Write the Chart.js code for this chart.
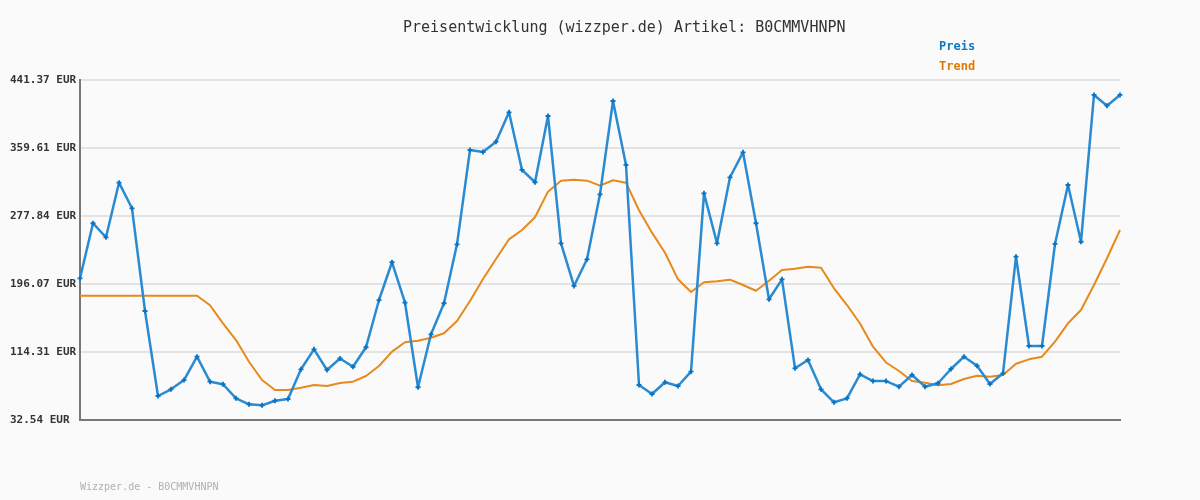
<!DOCTYPE html>
<html>
<head>
<meta charset="utf-8">
<script src="https://cdn.jsdelivr.net/npm/chart.js@4/dist/chart.umd.min.js"></script>
<style>
  html, body { margin: 0; padding: 0; background: #fafafa; }
  #wrap { width: 1200px; height: 500px; }
</style>
</head>
<body>
<div id="wrap"><canvas id="c" width="1200" height="500"></canvas></div>
<script>
const titleText = "Preisentwicklung (wizzper.de) Artikel: B0CMMVHNPN";
const footerText = "Wizzper.de - B0CMMVHNPN";
const seriesNames = ["Preis", "Trend"];
const yTicks = [32.54, 114.31, 196.07, 277.84, 359.61, 441.37];

const preis = [
  202.9, 269.1, 252.2, 317.9, 287.1, 163.6, 61.4, 69.4, 80.6, 108.7,
  78.6, 75.5, 58.6, 51.4, 50.2, 55.7, 57.8, 93.5, 117.5, 92.7,
  106.5, 96.6, 120.0, 176.8, 222.2, 173.6, 71.9, 135.6, 172.9, 243.8,
  357.2, 354.8, 367.2, 402.5, 333.2, 318.4, 398.1, 245.0, 193.7, 225.8,
  303.9, 416.1, 339.2, 74.6, 63.8, 77.9, 73.4, 90.6, 305.1, 245.0,
  324.4, 354.4, 269.1, 177.7, 201.7, 94.7, 104.7, 69.4, 53.8, 58.6,
  87.5, 79.4, 79.4, 72.6, 86.7, 72.6, 76.7, 93.9, 108.7, 97.8,
  75.8, 88.7, 228.9, 121.5, 121.5, 244.2, 315.1, 246.9, 423.4, 410.5,
  423.4
];

const trend = [
  182.0, 182.0, 182.0, 182.0, 182.0, 182.0, 182.0, 182.0, 182.0, 182.0,
  170.5, 148.8, 128.7, 102.6, 80.6, 68.6, 68.6, 71.4, 74.6, 73.4,
  77.0, 78.6, 85.4, 97.5, 114.7, 126.0, 127.9, 131.5, 136.8, 151.6,
  175.6, 202.1, 226.1, 249.8, 261.0, 276.3, 307.1, 320.3, 321.5, 320.3,
  314.3, 320.8, 317.9, 284.7, 257.8, 233.7, 201.7, 186.5, 198.1, 199.3,
  201.3, 194.9, 188.0, 200.0, 212.9, 214.5, 216.9, 215.7, 190.9, 170.8,
  148.6, 120.7, 101.7, 91.5, 79.4, 77.4, 74.3, 75.8, 81.8, 85.8,
  84.6, 86.7, 100.2, 105.5, 108.7, 126.7, 148.8, 164.8, 194.9, 227.0,
  261.0
];

const labels = preis.map((_, i) => String(i + 1));

const textPlugin = {
  id: 'texts',
  beforeDraw(chart) {
    const ctx = chart.ctx;
    ctx.save();
    ctx.fillStyle = '#fafafa';
    ctx.fillRect(0, 0, chart.width, chart.height);
    ctx.restore();
  },
  afterDraw(chart) {
    const ctx = chart.ctx;
    ctx.save();
    ctx.textBaseline = 'middle';
    ctx.textAlign = 'left';
    ctx.fillStyle = '#333333';
    ctx.font = '15px "DejaVu Sans Mono"';
    ctx.fillText(titleText, 403, 28);
    ctx.font = 'bold 12px "DejaVu Sans Mono"';
    ctx.fillStyle = '#0a7ac6';
    ctx.fillText(seriesNames[0], 939, 47);
    ctx.fillStyle = '#e07a06';
    ctx.fillText(seriesNames[1], 939, 67);
    ctx.font = '10px "DejaVu Sans Mono"';
    ctx.fillStyle = '#b0b0b0';
    ctx.fillText(footerText, 80, 487);
    ctx.restore();
  }
};

new Chart(document.getElementById('c'), {
  type: 'line',
  data: {
    labels: labels,
    datasets: [
      {
        label: seriesNames[0],
        data: preis,
        borderColor: '#2a8ad2',
        borderWidth: 2.5,
        borderJoinStyle: 'round',
        pointStyle: 'cross',
        pointRadius: 2.5,
        pointBorderWidth: 1.8,
        pointBorderColor: '#0b74c2',
        pointBackgroundColor: '#0b74c2',
        tension: 0,
        clip: false
      },
      {
        label: seriesNames[1],
        data: trend,
        borderColor: '#e8891c',
        borderWidth: 2,
        borderJoinStyle: 'round',
        pointRadius: 0,
        tension: 0,
        clip: false
      }
    ]
  },
  options: {
    responsive: false,
    devicePixelRatio: 1,
    animation: false,
    events: [],
    layout: { padding: { left: 10, right: 80, top: 80, bottom: 0 } },
    plugins: {
      legend: { display: false },
      title: { display: false },
      tooltip: { enabled: false }
    },
    scales: {
      x: {
        type: 'category',
        offset: false,
        grid: { display: false, drawTicks: false },
        ticks: { display: false },
        border: { display: true, color: '#777777', width: 2 },
        afterFit(scale) { scale.height = 80; }
      },
      y: {
        type: 'linear',
        min: yTicks[0],
        max: yTicks[yTicks.length - 1],
        afterBuildTicks(scale) {
          scale.ticks = yTicks.map(v => ({ value: v }));
        },
        afterFit(scale) { scale.width = 70; },
        grid: { color: '#e3e3e3', lineWidth: 2, drawTicks: false },
        border: { display: true, color: '#777777', width: 2 },
        ticks: {
          padding: 0,
          crossAlign: 'far',
          color: '#333333',
          font: { family: '"DejaVu Sans Mono"', size: 11, weight: 'bold' },
          callback: (v) => Number(v).toFixed(2) + ' EUR'
        }
      }
    }
  },
  plugins: [textPlugin]
});
</script>
</body>
</html>
